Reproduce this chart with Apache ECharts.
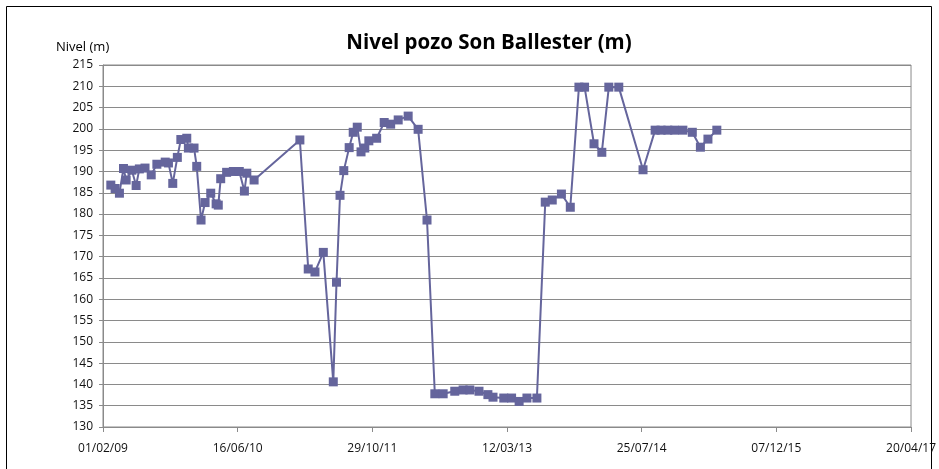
<!DOCTYPE html>
<html>
<head>
<meta charset="utf-8">
<script src="https://cdn.jsdelivr.net/npm/echarts@6/dist/echarts.min.js"></script>
<style>
  html, body { margin: 0; padding: 0; background: #fff; }
  #chart { width: 939px; height: 469px; }
</style>
</head>
<body>
<div id="chart"></div>
<script>
const fechas = [
  '2009-03-02', '2009-03-18', '2009-04-03', '2009-04-18', '2009-04-28', '2009-05-19',
  '2009-06-04', '2009-06-16', '2009-07-07', '2009-07-30', '2009-08-20', '2009-09-20',
  '2009-10-02', '2009-10-18', '2009-11-04', '2009-11-17', '2009-12-09', '2009-12-15',
  '2010-01-05', '2010-01-15', '2010-01-31', '2010-02-15', '2010-03-08', '2010-03-28',
  '2010-04-05', '2010-04-14', '2010-05-06', '2010-05-31', '2010-06-22', '2010-07-11',
  '2010-07-20', '2010-08-16',
  '2011-02-02', '2011-03-05', '2011-03-30', '2011-04-30', '2011-06-06', '2011-06-18',
  '2011-07-01', '2011-07-15', '2011-08-04', '2011-08-19', '2011-09-03', '2011-09-17',
  '2011-10-01', '2011-10-16', '2011-11-14', '2011-12-12', '2012-01-05', '2012-02-02',
  '2012-03-10', '2012-04-16', '2012-05-19', '2012-06-17', '2012-07-18', '2012-08-30',
  '2012-09-30', '2012-10-25', '2012-11-28', '2012-12-31', '2013-01-19', '2013-02-28',
  '2013-03-29', '2013-04-26', '2013-05-25', '2013-07-01', '2013-08-01', '2013-08-27',
  '2013-09-30', '2013-11-02', '2013-12-04', '2013-12-25', '2014-01-29', '2014-02-27',
  '2014-03-25', '2014-05-01', '2014-07-30', '2014-09-13', '2014-10-05', '2014-10-30',
  '2014-11-24', '2014-12-25', '2015-01-29', '2015-02-28', '2015-03-28', '2015-04-30'
];

// nivel (m)
const nivel = [
  186.8, 186.0, 184.9, 190.7, 188.0, 190.3,
  186.7, 190.6, 190.8, 189.2, 191.7, 192.2,
  192.0, 187.2, 193.3, 197.5, 197.8, 195.5,
  195.5, 191.2, 178.6, 182.7, 184.9, 182.4,
  182.1, 188.3, 189.8, 190.0, 190.0, 185.4,
  189.6, 188.0,
  197.4, 167.1, 166.4, 171.0, 140.6, 164.0,
  184.4, 190.2, 195.6, 199.2, 200.4, 194.6,
  195.5, 197.2, 197.8, 201.5, 201.1, 202.1,
  203.0, 199.9, 178.6, 137.8, 137.8, 138.4,
  138.7, 138.7, 138.4, 137.6, 137.0, 136.8,
  136.8, 136.0, 136.8, 136.8, 182.8, 183.3,
  184.7, 181.6, 209.8, 209.8, 196.5, 194.5,
  209.8, 209.8, 190.4, 199.7, 199.7, 199.7,
  199.7, 199.7, 199.2, 195.7, 197.6, 199.7
];

// eje x en dias desde 01/02/09 (como el eje de fechas de Excel)
const origen = Date.UTC(2009, 1, 1);
const xMin = 0, xMax = 3000, xPaso = 500;
const yMin = 130, yMax = 215, yPaso = 5;

function dias(s) {
  const p = s.split('-').map(Number);
  return (Date.UTC(p[0], p[1] - 1, p[2]) - origen) / 86400000;
}

function etiquetaFecha(v) {
  const d = new Date(origen + v * 86400000);
  const dd = String(d.getUTCDate()).padStart(2, '0');
  const mm = String(d.getUTCMonth() + 1).padStart(2, '0');
  const yy = String(d.getUTCFullYear() % 100).padStart(2, '0');
  return dd + '/' + mm + '/' + yy;
}

const datos = fechas.map((f, i) => [dias(f), nivel[i]]);

const fuente = '"Open Sans", "Liberation Sans", sans-serif';
const gris = '#8a8a8a';

const chart = echarts.init(document.getElementById('chart'), null, { renderer: 'canvas' });

const option = {
  backgroundColor: '#fff',
  animation: false,
  title: {
    text: 'Nivel pozo Son Ballester (m)',
    left: 484,
    top: 28,
    textAlign: 'center',
    textStyle: {
      fontFamily: fuente,
      fontWeight: 'bold',
      fontSize: 20.5,
      color: '#000'
    }
  },
  graphic: [
    {
      type: 'rect',
      shape: { x: 6.5, y: 6.5, width: 925, height: 480 },
      style: { fill: 'none', stroke: '#000', lineWidth: 1 },
      silent: true
    },
    {
      type: 'text',
      left: 56,
      top: 41,
      style: {
        text: 'Nivel (m)',
        font: '13px ' + fuente,
        fill: '#000'
      }
    }
  ],
  grid: {
    left: 103,
    right: 27,
    top: 65,
    bottom: 42,
    show: true,
    borderColor: gris,
    borderWidth: 1
  },
  xAxis: {
    type: 'value',
    min: xMin,
    max: xMax,
    interval: xPaso,
    axisLine: { show: true, lineStyle: { color: gris, width: 1 } },
    axisTick: { show: true, length: 5, lineStyle: { color: gris } },
    splitLine: { show: false },
    axisLabel: {
      margin: 16,
      fontFamily: fuente,
      fontSize: 12,
      color: '#111',
      formatter: etiquetaFecha
    }
  },
  yAxis: {
    type: 'value',
    min: yMin,
    max: yMax,
    interval: yPaso,
    axisLine: { show: true, lineStyle: { color: gris, width: 1 } },
    axisTick: { show: true, length: 4, lineStyle: { color: gris } },
    splitLine: { show: true, lineStyle: { color: gris, width: 1 } },
    axisLabel: {
      margin: 10,
      fontFamily: fuente,
      fontSize: 12,
      color: '#111'
    }
  },
  series: [{
    name: 'Nivel',
    type: 'line',
    data: datos,
    symbol: 'rect',
    symbolSize: 9,
    showAllSymbol: true,
    lineStyle: { color: '#65659c', width: 2 },
    itemStyle: { color: '#65659c', borderWidth: 0 }
  }]
};

chart.setOption(option);
</script>
</body>
</html>
